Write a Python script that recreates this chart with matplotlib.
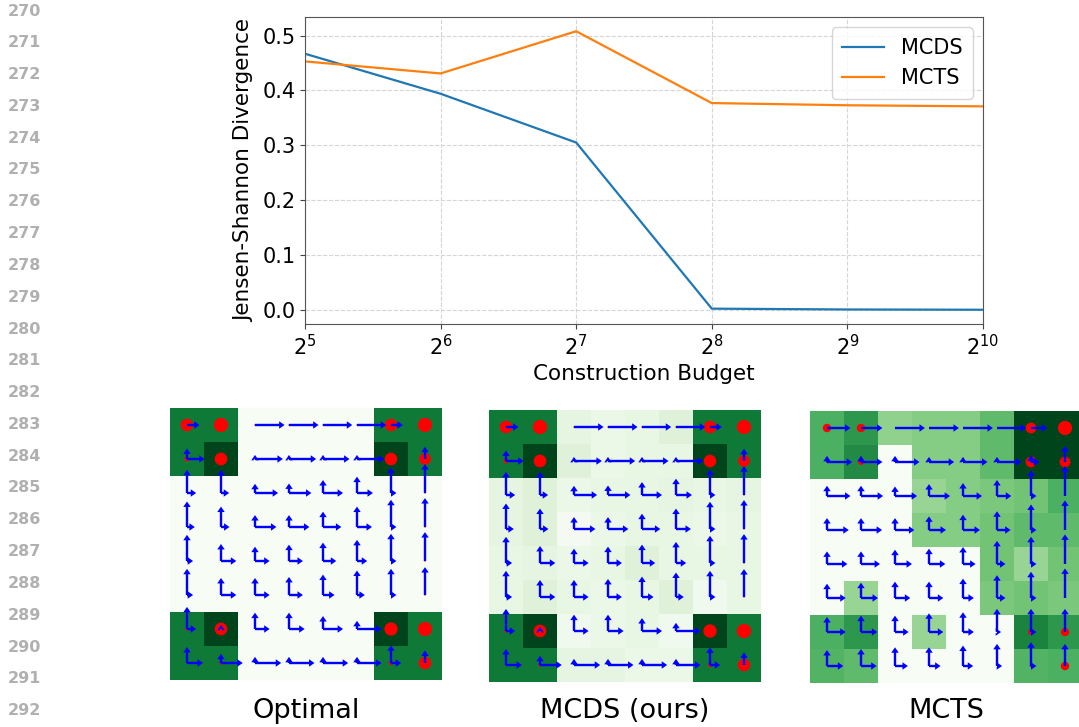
import matplotlib
matplotlib.use("Agg")
import matplotlib.pyplot as plt
import numpy as np

# --- line chart data ---
budget = [32, 64, 128, 256, 512, 1024]
mcds_js = [0.467, 0.394, 0.305, 0.002, 0.0005, 0.0]
mcts_js = [0.453, 0.431, 0.508, 0.377, 0.373, 0.371]

# --- grid panels (row 0 = top), heat = Greens level, arrows in cell units ---
opt_heat = [[0.82, 0.82, 0, 0, 0, 0, 0.82, 0.82],
            [0.82, 1.0, 0, 0, 0, 0, 1.0, 0.82],
            [0, 0, 0, 0, 0, 0, 0, 0],
            [0, 0, 0, 0, 0, 0, 0, 0],
            [0, 0, 0, 0, 0, 0, 0, 0],
            [0, 0, 0, 0, 0, 0, 0, 0],
            [0.82, 1.0, 0, 0, 0, 0, 1.0, 0.82],
            [0.82, 0.82, 0, 0, 0, 0, 0.82, 0.82]]

mcds_heat = [[0.82, 0.82, 0.12, 0.08, 0.1, 0.15, 0.82, 0.82],
             [0.82, 1.0, 0.15, 0.08, 0.1, 0.1, 1.0, 0.82],
             [0.12, 0.15, 0.08, 0.1, 0.1, 0.12, 0.1, 0.12],
             [0.12, 0.15, 0.02, 0.08, 0.1, 0.1, 0.08, 0.1],
             [0.1, 0.12, 0.08, 0.1, 0.15, 0.1, 0.1, 0.1],
             [0.1, 0.15, 0.1, 0.08, 0.1, 0.15, 0.05, 0.1],
             [0.82, 1.0, 0.05, 0.08, 0.1, 0.05, 1.0, 0.82],
             [0.82, 0.82, 0.12, 0.12, 0.08, 0.08, 0.82, 0.82]]

mcts_heat = [[0.6, 0.7, 0.42, 0.45, 0.45, 0.55, 1.0, 1.0],
             [0.6, 0.75, 0, 0.45, 0.45, 0.55, 1.0, 1.0],
             [0, 0, 0, 0.4, 0.45, 0.48, 0.5, 0.6],
             [0, 0, 0, 0.45, 0.45, 0.5, 0.55, 0.55],
             [0, 0, 0, 0, 0, 0.5, 0.4, 0.5],
             [0, 0.4, 0, 0, 0, 0.48, 0.5, 0.48],
             [0.6, 0.7, 0, 0.4, 0, 0, 0.78, 0.7],
             [0.58, 0.55, 0, 0, 0, 0, 0.58, 0.6]]

opt_up = [[0, 0, 0, 0, 0, 0, 0, 0],
          [0.31, 0, 0.12, 0.12, 0.12, 0.12, 0, 0.36],
          [0.68, 0.68, 0.27, 0.28, 0.38, 0.48, 0.75, 0.85],
          [0.75, 0.6, 0.35, 0.35, 0.45, 0.6, 0.8, 0.85],
          [0.77, 0.5, 0.42, 0.48, 0.54, 0.62, 0.8, 0.85],
          [0.77, 0.5, 0.5, 0.53, 0.6, 0.72, 0.77, 0.82],
          [0.65, 0.12, 0.48, 0.48, 0.38, 0.24, 0, 0],
          [0.47, 0.27, 0.18, 0.18, 0.18, 0.18, 0.52, 0.37]]

opt_right = [[0.37, 0, 0.87, 0.87, 0.86, 0.86, 0.35, 0],
             [0.52, 0, 0.82, 0.8, 0.78, 0.8, 0, 0],
             [0.27, 0.24, 0.68, 0.66, 0.59, 0.47, 0.16, 0],
             [0.23, 0.25, 0.63, 0.6, 0.54, 0.44, 0.16, 0],
             [0.18, 0.45, 0.43, 0.41, 0.39, 0.3, 0.16, 0],
             [0.18, 0.45, 0.43, 0.41, 0.34, 0.23, 0.16, 0],
             [0.27, 0, 0.43, 0.46, 0.59, 0.72, 0, 0],
             [0.47, 0.64, 0.77, 0.75, 0.74, 0.72, 0.3, 0]]

opt_stop = [[0.78, 1.0, 0.01, 0.01, 0.01, 0.01, 0.78, 1.0],
            [0.12, 0.8, 0.01, 0.01, 0.01, 0.01, 0.78, 0.68],
            [0, 0, 0, 0, 0, 0, 0, 0.01],
            [0, 0, 0, 0, 0, 0, 0, 0.01],
            [0, 0, 0, 0, 0, 0, 0, 0.01],
            [0, 0, 0, 0, 0, 0, 0, 0.01],
            [0.055, 0.8, 0, 0, 0, 0, 0.88, 1.0],
            [0.01, 0.055, 0, 0, 0, 0, 0.09, 0.78]]

mcts_up = [[0, 0, 0, 0, 0, 0, 0, 0],
           [0.18, 0.18, 0.18, 0.15, 0.15, 0.15, 0.2, 0.47],
           [0.3, 0.3, 0.28, 0.35, 0.38, 0.47, 0.75, 0.88],
           [0.35, 0.35, 0.35, 0.4, 0.45, 0.55, 0.75, 0.87],
           [0.37, 0.37, 0.42, 0.45, 0.5, 0.68, 0.8, 0.87],
           [0.42, 0.45, 0.48, 0.48, 0.57, 0.67, 0.77, 0.87],
           [0.44, 0.48, 0.48, 0.55, 0.58, 0.68, 0.68, 0.68],
           [0.47, 0.5, 0.55, 0.55, 0.6, 0.65, 0.7, 0.65]]

mcts_right = [[0.69, 0.63, 0.88, 0.88, 0.88, 0.86, 0.48, 0],
              [0.74, 0.63, 0.72, 0.74, 0.72, 0.72, 0.25, 0],
              [0.69, 0.65, 0.65, 0.62, 0.56, 0.42, 0.16, 0],
              [0.64, 0.62, 0.57, 0.5, 0.5, 0.4, 0.16, 0],
              [0.6, 0.56, 0.5, 0.48, 0.37, 0.25, 0.16, 0],
              [0.55, 0.5, 0.45, 0.42, 0.32, 0.25, 0.16, 0],
              [0.55, 0.48, 0.4, 0.42, 0.32, 0.12, 0.16, 0],
              [0.48, 0.46, 0.38, 0.34, 0.3, 0.15, 0.16, 0]]

mcts_stop = [[0.35, 0.35, 0, 0, 0, 0, 0.58, 1.0],
             [0.02, 0.17, 0, 0, 0, 0, 0.58, 0.58],
             [0, 0, 0, 0, 0, 0, 0, 0],
             [0, 0, 0, 0, 0, 0, 0, 0],
             [0, 0, 0, 0, 0, 0, 0, 0],
             [0, 0, 0, 0, 0, 0, 0, 0],
             [0, 0, 0, 0, 0, 0, 0.17, 0.35],
             [0, 0, 0, 0, 0, 0, 0.03, 0.35]]

panel_titles = ["Optimal", "MCDS (ours)", "MCTS"]
line_numbers = list(range(270, 293))

W, H = 1079, 727
fig = plt.figure(figsize=(W / 100, H / 100), dpi=100)

# line chart
ax = fig.add_axes([305 / W, 1 - 324 / H, 678 / W, 307 / H])
ax.plot(budget, mcds_js, color="#1f77b4", lw=1.6, label="MCDS")
ax.plot(budget, mcts_js, color="#ff7f0e", lw=1.6, label="MCTS")
ax.set_xscale("log", base=2)
ax.set_xlim(32, 1024)
ax.set_ylim(-0.026, 0.534)
ax.set_yticks([0.0, 0.1, 0.2, 0.3, 0.4, 0.5])
ax.grid(True, linestyle="--", color="#d5d5d5", linewidth=0.8)
ax.tick_params(labelsize=15, color="#444444")
for s in ax.spines.values():
    s.set_color("#555555")
ax.set_xlabel("Construction Budget", fontsize=15.5, labelpad=4)
ax.set_ylabel("Jensen-Shannon Divergence", fontsize=15.5, labelpad=6)
ax.legend(loc="upper right", fontsize=15, borderpad=0.5)

# grid panels
panels = [(170, 408, opt_heat, opt_up, opt_right, opt_stop),
          (489, 410, mcds_heat, opt_up, opt_right, opt_stop),
          (810, 411, mcts_heat, mcts_up, mcts_right, mcts_stop)]

for (px, py, heat, up, right, stop), title in zip(panels, panel_titles):
    gax = fig.add_axes([px / W, 1 - (py + 272) / H, 272 / W, 272 / H])
    gax.imshow(np.array(heat), cmap="Greens", vmin=0, vmax=1,
               extent=(-0.5, 7.5, 7.5, -0.5), interpolation="nearest")
    up = np.array(up)
    right = np.array(right)
    stop = np.array(stop)
    rows, cols = np.nonzero(stop)
    gax.scatter(cols, rows, s=stop[rows, cols] * 105, color="red", zorder=2,
                linewidths=0)
    for r in range(8):
        for c in range(8):
            if up[r, c] > 0:
                gax.arrow(c, r, 0, -up[r, c], width=0.07, head_width=0.22,
                          head_length=0.16, length_includes_head=True,
                          color="blue", lw=0, zorder=3)
            if right[r, c] > 0:
                gax.arrow(c, r, right[r, c], 0, width=0.07, head_width=0.22,
                          head_length=0.16, length_includes_head=True,
                          color="blue", lw=0, zorder=3)
    gax.set_xlim(-0.5, 7.5)
    gax.set_ylim(7.5, -0.5)
    gax.axis("off")
    fig.text((px + 136) / W, 1 - 711 / H, title, ha="center", va="center",
             fontsize=19.5)

# margin line numbers
for i, n in enumerate(line_numbers):
    fig.text(41 / W, 1 - (11 + i * 31.8) / H, str(n), ha="right", va="center",
             fontsize=11.5, fontweight="bold", color="#b0b0b0")

fig.savefig("out.png", dpi=100, facecolor="white")
